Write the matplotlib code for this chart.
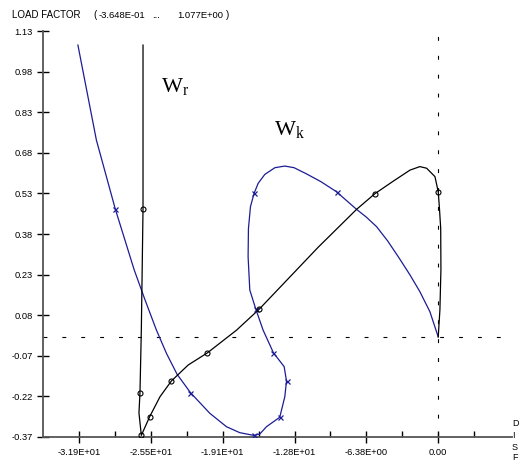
import matplotlib
matplotlib.use("Agg")
import matplotlib.pyplot as plt
from matplotlib.ticker import FixedLocator

plt.rcParams['font.family'] = ['Liberation Sans', 'DejaVu Sans']
plt.rcParams['mathtext.fontset'] = 'custom'
plt.rcParams['mathtext.rm'] = 'Liberation Serif'
plt.rcParams['mathtext.it'] = 'Liberation Serif'

# ---- data ----
black_x = [0.0, 0.15, 0.24, 0.22, 0.10, 0.0, -0.29, -1.03, -1.63, -2.51, -4.0, -5.62,
           -7.25, -10.66, -15.9, -17.9, -20.49, -22.2, -23.69, -24.7, -25.62, -26.36,
           -26.57, -26.48, -26.36, -26.21, -26.21]
black_y = [0.0, 0.10, 0.25, 0.40, 0.48, 0.536, 0.592, 0.623, 0.629, 0.616, 0.575, 0.529,
           0.471, 0.331, 0.102, 0.025, -0.059, -0.104, -0.163, -0.221, -0.295, -0.364,
           -0.281, -0.206, 0.025, 0.472, 1.078]
black_mark_x = [0.0, -5.62, -15.9, -20.49, -23.69, -25.62, -26.36, -26.48, -26.21]
black_mark_y = [0.536, 0.529, 0.102, -0.059, -0.163, -0.295, -0.364, -0.206, 0.472]

blue_x = [0.0, -0.74, -1.63, -2.51, -3.5, -4.5, -5.47, -6.4, -7.25, -9.03, -10.4, -11.69,
          -12.8, -13.62, -14.5, -15.4, -15.99, -16.35, -16.67, -16.85, -16.88, -16.73,
          -16.2, -15.55, -14.63, -13.68, -13.47, -13.62, -14.07, -15.25, -15.84, -16.38,
          -17.62, -18.80, -20.29, -22.0, -23.19, -24.13, -25.02, -26.0, -26.99, -28.67,
          -30.35, -31.99]
blue_y = [0.0, 0.093, 0.167, 0.229, 0.293, 0.355, 0.407, 0.443, 0.471, 0.536, 0.573, 0.602,
          0.625, 0.631, 0.625, 0.600, 0.567, 0.530, 0.481, 0.40, 0.296, 0.173,
          0.103, 0.025, -0.059, -0.110, -0.163, -0.221, -0.297, -0.332, -0.359, -0.364,
          -0.354, -0.332, -0.282, -0.206, -0.138, -0.061, 0.025, 0.133, 0.247, 0.472,
          0.727, 1.078]
blue_mark_x = [-9.03, -16.35, -16.2, -14.63, -13.47, -14.07, -16.38, -22.0, -28.67]
blue_mark_y = [0.536, 0.530, 0.103, -0.059, -0.163, -0.297, -0.364, -0.206, 0.472]

x_ticks = [-31.9, -25.52, -19.14, -12.76, -6.38, 0.0]
x_tick_labels = ['-3.19E+01', '-2.55E+01', '-1.91E+01', '-1.28E+01', '-6.38E+00', '0.00']
x_minor = [-28.71, -22.33, -15.95, -9.57, -3.19, 3.19]
y_ticks = [-0.37, -0.22, -0.07, 0.08, 0.23, 0.38, 0.53, 0.68, 0.83, 0.98, 1.13]
y_tick_labels = ['-0.37', '-0.22', '-0.07', '0.08', '0.23', '0.38', '0.53', '0.68',
                 '0.83', '0.98', '1.13']

W, H = 525, 466
fig = plt.figure(figsize=(W / 100, H / 100), dpi=100)
ax = fig.add_axes([43 / W, 1 - 437 / H, (512 - 43) / W, (437 - 31) / H])
ax.set_xlim(-35.09, 6.55)
ax.set_ylim(-0.37, 1.13)

blue = '#1c1c96'
# reference dashed lines
ax.axhline(0, color='black', lw=0.8, dashes=(3.5, 13.5), zorder=1)
ax.axvline(0, color='black', lw=0.8, dashes=(3.5, 13.5), zorder=1)

ax.plot(blue_x, blue_y, color=blue, lw=0.9, zorder=3)
ax.plot(blue_mark_x, blue_mark_y, ls='none', marker='x', ms=3.6, mew=0.9, color=blue, zorder=4)
ax.plot(black_x, black_y, color='black', lw=0.9, zorder=3)
ax.plot(black_mark_x, black_mark_y, ls='none', marker='o', ms=3.6, mew=0.8,
        mfc='none', mec='black', zorder=4)

for s in ['top', 'right']:
    ax.spines[s].set_visible(False)
for s in ['left', 'bottom']:
    ax.spines[s].set_color('#555555')
    ax.spines[s].set_linewidth(1.3)

ax.set_xticks(x_ticks)
ax.set_xticklabels(x_tick_labels)
ax.xaxis.set_minor_locator(FixedLocator(x_minor))
ax.set_yticks(y_ticks)
ax.set_yticklabels(y_tick_labels)
ax.tick_params(axis='both', which='major', direction='inout', length=8.5, width=1.0,
               color='black', labelsize=6.7, pad=3)
ax.tick_params(axis='x', which='minor', direction='in', length=4.3, width=1.0, color='black')
ax.tick_params(axis='x', which='major', pad=4)

# labels
ax.text(-24.6, 0.905, r'$\mathrm{W_r}$', fontsize=16, ha='left', va='baseline')
ax.text(-14.6, 0.745, r'$\mathrm{W_k}$', fontsize=16, ha='left', va='baseline')

def ftext(px, py, s, size=7, **kw):
    fig.text(px / W, 1 - py / H, s, fontsize=size, va='center', **kw)

ftext(12, 15, 'LOAD FACTOR')
ftext(93, 15, '(')
ftext(99, 15, '-3.648E-01', size=6.8)
ftext(152, 15, '...', size=6.8)
ftext(177, 15, '1.077E+00', size=6.8)
ftext(226, 15, ')')
for py, s in zip([423, 436, 447, 458], ['D', 'I', 'S', 'F']):
    ftext(512, py, s, size=6.5)

fig.savefig('out.png', dpi=100)
